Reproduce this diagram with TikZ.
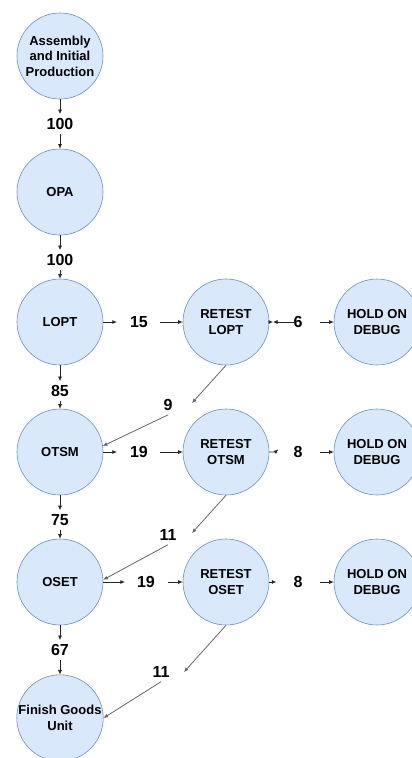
\documentclass[tikz,border=0pt]{standalone}
\usepackage{fontspec}
\setmainfont{Liberation Sans}
\usetikzlibrary{arrows.meta}
\definecolor{cfill}{HTML}{DAE8FC}
\definecolor{cline}{HTML}{6C8EBF}
\begin{document}
\begin{tikzpicture}[x=1pt,y=-1pt,
  stage/.style={circle,draw=cline,fill=cfill,minimum size=86pt,inner sep=0pt,align=center,
    font=\bfseries\fontsize{13}{15.5}\selectfont,line width=0.6pt},
  qty/.style={font=\bfseries\fontsize{16}{18}\selectfont,inner sep=4pt},
  flow/.style={-{Latex[length=4.5pt,width=4pt]},line width=0.7pt,black!85},
  back/.style={-{Latex[length=4.5pt,width=4pt]},line width=0.8pt,black!60}]
\useasboundingbox (0,0) rectangle (412,758);
\clip (0,0) rectangle (412,758);
% stages
\node[stage] (asm)  at (60,56)  {Assembly\\and Initial\\Production};
\node[stage] (opa)  at (60,192) {OPA};
\node[stage] (lopt) at (60,322) {LOPT};
\node[stage] (otsm) at (60,452) {OTSM};
\node[stage] (oset) at (60,582) {OSET};
\node[stage] (fin)  at (60,718) {Finish Goods\\Unit};
\node[stage] (rl) at (226,322) {RETEST\\LOPT};
\node[stage] (ro) at (226,452) {RETEST\\OTSM};
\node[stage] (rs) at (226,582) {RETEST\\OSET};
\node[stage] (h1) at (377,322) {HOLD ON\\DEBUG};
\node[stage] (h2) at (377,452) {HOLD ON\\DEBUG};
\node[stage] (h3) at (377,582) {HOLD ON\\DEBUG};
% quantities
\node[qty] (q1) at (60,124) {100};
\node[qty] (q2) at (60,260) {100};
\node[qty] (q3) at (60,391) {85};
\node[qty] (q4) at (60,520) {75};
\node[qty] (q5) at (60,650) {67};
\node[qty] (q15) at (139,322) {15};
\node[qty] (q6) at (298,322) {6};
\node[qty] (q9) at (168,405) {9};
\node[qty] (q19a) at (139,452) {19};
\node[qty] (q8a) at (298,452) {8};
\node[qty] (q11a) at (168,535) {11};
\node[qty] (q19b) at (146,582) {19};
\node[qty] (q8b) at (298,582) {8};
\node[qty] (q11b) at (161,672) {11};
\coordinate (m1) at (273,322);
\coordinate (t9) at (192,403);
\coordinate (t11a) at (192,533);
\coordinate (t11b) at (184,672);
% vertical flow
\draw[flow] (asm.south) -- (q1.north);
\draw[flow] (q1.south) -- (opa.north);
\draw[flow] (opa.south) -- (q2.north);
\draw[flow] (q2.south) -- (lopt.north);
\draw[flow] (lopt.south) -- (q3.north);
\draw[flow] (q3.south) -- (otsm.north);
\draw[flow] (otsm.south) -- (q4.north);
\draw[flow] (q4.south) -- (oset.north);
\draw[flow] (oset.south) -- (q5.north);
\draw[flow] (q5.south) -- (fin.north);
% row LOPT
\draw[flow,shorten >=9pt] (lopt.east) -- (q15.west);
\draw[flow,shorten <=8pt] (q15.east) -- (rl.west);
\draw[flow] (rl.east) -- (m1);
\draw[flow,shorten <=-5pt] (q6.west) -- (m1);
\draw[flow,shorten <=13.5pt] (q6.east) -- (h1.west);
% row OTSM
\draw[flow,shorten >=9pt] (otsm.east) -- (q19a.west);
\draw[flow,shorten <=8pt] (q19a.east) -- (ro.west);
\draw[flow] (ro.east) -- ++(6,0) -- ++(3,-2.5);
\draw[flow,shorten <=13.5pt] (q8a.east) -- (h2.west);
% row OSET
\draw[flow,shorten >=8pt] (oset.east) -- (q19b.west);
\draw[flow,shorten <=9pt] (q19b.east) -- (rs.west);
\draw[flow] (rs.east) -- ++(7,0);
\draw[flow,shorten <=13.5pt] (q8b.east) -- (h3.west);
% returns
\draw[back] (rl.south) -- (t9);
\draw[back] (q9.south) -- (otsm.8);
\draw[back] (ro.south) -- (t11a);
\draw[back] (q11a.south) -- (oset.3);
\draw[back] (rs.south) -- (t11b);
\draw[back] (q11b.south) -- (fin.0);
\end{tikzpicture}
\end{document}
